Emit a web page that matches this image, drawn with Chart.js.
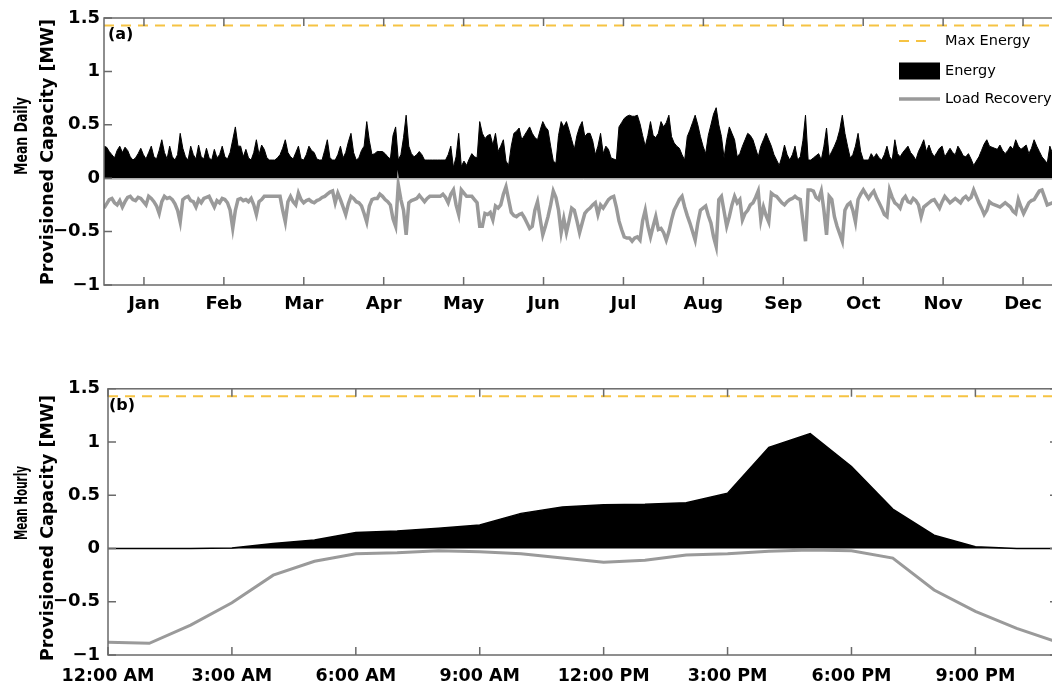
<!DOCTYPE html>
<html><head><meta charset="utf-8">
<script src="https://cdn.jsdelivr.net/npm/chart.js@4/dist/chart.umd.min.js"></script>
<style>
html,body{margin:0;padding:0;background:#fff;overflow:hidden;width:1052px;height:683px;}
#wrap{position:relative;width:1052px;height:683px;overflow:hidden;background:#fff;}
canvas{position:absolute;left:0;}
#c1{top:0;} #c2{top:370px;}
</style></head><body><div id="wrap"><canvas id="c1" width="1075" height="330"></canvas><canvas id="c2" width="1075" height="330"></canvas></div>
<script>
const monthLabels = ['Jan','Feb','Mar','Apr','May','Jun','Jul','Aug','Sep','Oct','Nov','Dec'];
const hourLabels = ['12:00 AM','3:00 AM','6:00 AM','9:00 AM','12:00 PM','3:00 PM','6:00 PM','9:00 PM'];
const hourTickValues = [0,3,6,9,12,15,18,21];
const yTickValues = [-1,-0.5,0,0.5,1,1.5];
const maxEnergy = 1.43;

const energyDaily = [
0.30,0.29,0.25,0.22,0.19,0.26,0.30,0.24,0.29,0.26,
0.20,0.17,0.19,0.23,0.28,0.22,0.18,0.24,0.30,0.20,
0.18,0.26,0.36,0.24,0.18,0.30,0.20,0.17,0.22,0.42,
0.28,0.20,0.17,0.30,0.22,0.18,0.31,0.20,0.18,0.28,
0.19,0.17,0.27,0.19,0.22,0.30,0.20,0.18,0.24,0.36,
0.48,0.30,0.30,0.20,0.27,0.19,0.17,0.24,0.36,0.22,
0.31,0.27,0.19,0.17,0.17,0.17,0.19,0.22,0.28,0.36,
0.24,0.20,0.18,0.24,0.30,0.18,0.17,0.22,0.30,0.26,
0.24,0.18,0.17,0.17,0.26,0.36,0.19,0.17,0.17,0.22,
0.30,0.19,0.24,0.34,0.42,0.24,0.17,0.19,0.26,0.30,
0.53,0.35,0.22,0.23,0.25,0.25,0.25,0.23,0.20,0.18,
0.40,0.48,0.17,0.22,0.38,0.59,0.30,0.23,0.20,0.22,
0.25,0.22,0.17,0.17,0.17,0.17,0.17,0.17,0.17,0.17,
0.17,0.22,0.30,0.10,0.20,0.42,0.11,0.16,0.12,0.18,
0.23,0.20,0.19,0.53,0.42,0.37,0.40,0.41,0.31,0.42,
0.25,0.30,0.36,0.16,0.12,0.30,0.42,0.44,0.47,0.36,
0.40,0.44,0.48,0.42,0.38,0.36,0.45,0.53,0.48,0.45,
0.30,0.16,0.14,0.40,0.53,0.48,0.53,0.45,0.36,0.27,
0.40,0.48,0.53,0.39,0.42,0.42,0.35,0.22,0.30,0.42,
0.23,0.30,0.27,0.19,0.18,0.17,0.48,0.52,0.56,0.58,
0.59,0.58,0.58,0.59,0.51,0.40,0.30,0.40,0.53,0.40,
0.38,0.42,0.53,0.48,0.52,0.59,0.39,0.33,0.30,0.28,
0.22,0.17,0.39,0.45,0.52,0.59,0.50,0.39,0.30,0.23,
0.40,0.50,0.60,0.66,0.50,0.39,0.19,0.36,0.48,0.42,
0.36,0.20,0.23,0.30,0.36,0.42,0.40,0.36,0.28,0.20,
0.30,0.36,0.42,0.36,0.30,0.22,0.17,0.12,0.20,0.31,
0.22,0.17,0.22,0.30,0.17,0.20,0.35,0.59,0.17,0.17,
0.19,0.21,0.23,0.17,0.30,0.47,0.20,0.25,0.30,0.36,
0.45,0.59,0.42,0.30,0.19,0.22,0.30,0.42,0.25,0.17,
0.17,0.17,0.23,0.19,0.23,0.19,0.17,0.22,0.30,0.20,
0.17,0.36,0.23,0.20,0.24,0.27,0.30,0.24,0.21,0.17,
0.25,0.30,0.36,0.25,0.31,0.24,0.20,0.24,0.28,0.30,
0.20,0.24,0.28,0.24,0.22,0.30,0.26,0.21,0.20,0.23,
0.18,0.12,0.16,0.20,0.26,0.32,0.36,0.30,0.29,0.28,
0.27,0.31,0.26,0.23,0.26,0.30,0.27,0.36,0.30,0.27,
0.29,0.31,0.23,0.28,0.36,0.30,0.25,0.20,0.17,0.14,
0.30,0.23,0.25,0.28,0.26
];

const loadDaily = [
-0.28,-0.24,-0.20,-0.19,-0.23,-0.25,-0.21,-0.27,-0.22,-0.18,
-0.17,-0.20,-0.21,-0.18,-0.19,-0.22,-0.25,-0.17,-0.19,-0.22,
-0.26,-0.33,-0.22,-0.17,-0.19,-0.18,-0.20,-0.24,-0.30,-0.41,
-0.20,-0.18,-0.17,-0.21,-0.22,-0.27,-0.20,-0.23,-0.19,-0.18,
-0.17,-0.22,-0.27,-0.21,-0.23,-0.19,-0.20,-0.23,-0.30,-0.47,
-0.30,-0.20,-0.19,-0.21,-0.20,-0.22,-0.19,-0.25,-0.34,-0.22,
-0.20,-0.17,-0.17,-0.17,-0.17,-0.17,-0.17,-0.17,-0.30,-0.41,
-0.22,-0.17,-0.22,-0.25,-0.14,-0.20,-0.23,-0.21,-0.20,-0.22,
-0.23,-0.21,-0.20,-0.18,-0.17,-0.15,-0.13,-0.12,-0.23,-0.14,
-0.20,-0.27,-0.34,-0.24,-0.17,-0.19,-0.22,-0.23,-0.26,-0.33,
-0.41,-0.26,-0.20,-0.19,-0.19,-0.15,-0.17,-0.20,-0.22,-0.25,
-0.38,-0.45,-0.06,-0.20,-0.30,-0.53,-0.23,-0.21,-0.20,-0.19,
-0.16,-0.19,-0.22,-0.19,-0.17,-0.17,-0.17,-0.17,-0.17,-0.15,
-0.18,-0.23,-0.15,-0.11,-0.25,-0.34,-0.11,-0.14,-0.17,-0.17,
-0.17,-0.20,-0.23,-0.45,-0.45,-0.33,-0.34,-0.32,-0.39,-0.26,
-0.28,-0.25,-0.15,-0.08,-0.20,-0.32,-0.35,-0.36,-0.34,-0.33,
-0.37,-0.42,-0.47,-0.45,-0.30,-0.22,-0.38,-0.53,-0.45,-0.36,
-0.25,-0.12,-0.18,-0.30,-0.51,-0.38,-0.51,-0.40,-0.28,-0.30,
-0.40,-0.51,-0.42,-0.33,-0.30,-0.28,-0.25,-0.23,-0.34,-0.25,
-0.28,-0.24,-0.20,-0.18,-0.17,-0.27,-0.40,-0.48,-0.55,-0.56,
-0.56,-0.59,-0.56,-0.55,-0.58,-0.40,-0.30,-0.45,-0.55,-0.45,
-0.36,-0.48,-0.47,-0.51,-0.58,-0.50,-0.39,-0.30,-0.25,-0.20,
-0.17,-0.27,-0.35,-0.42,-0.50,-0.58,-0.42,-0.30,-0.28,-0.26,
-0.35,-0.42,-0.55,-0.64,-0.20,-0.17,-0.31,-0.45,-0.36,-0.25,
-0.17,-0.23,-0.20,-0.39,-0.33,-0.30,-0.25,-0.23,-0.18,-0.12,
-0.39,-0.27,-0.35,-0.41,-0.14,-0.16,-0.17,-0.20,-0.23,-0.25,
-0.22,-0.20,-0.19,-0.17,-0.19,-0.20,-0.40,-0.59,-0.11,-0.11,
-0.12,-0.18,-0.20,-0.12,-0.30,-0.53,-0.17,-0.20,-0.36,-0.45,
-0.52,-0.59,-0.30,-0.25,-0.23,-0.30,-0.41,-0.20,-0.15,-0.11,
-0.15,-0.19,-0.15,-0.12,-0.18,-0.23,-0.28,-0.34,-0.36,-0.11,
-0.18,-0.23,-0.25,-0.28,-0.20,-0.17,-0.22,-0.23,-0.19,-0.21,
-0.25,-0.36,-0.27,-0.25,-0.23,-0.21,-0.20,-0.24,-0.28,-0.22,
-0.17,-0.20,-0.23,-0.21,-0.19,-0.21,-0.23,-0.19,-0.17,-0.20,
-0.18,-0.11,-0.17,-0.23,-0.28,-0.34,-0.30,-0.22,-0.24,-0.25,
-0.26,-0.27,-0.25,-0.23,-0.25,-0.27,-0.31,-0.33,-0.20,-0.27,
-0.33,-0.28,-0.23,-0.21,-0.20,-0.16,-0.12,-0.11,-0.18,-0.25,
-0.24,-0.23,-0.25,-0.22,-0.24
];

const hours = [0,1,2,3,4,5,6,7,8,9,10,11,12,13,14,15,16,17,18,19,20,21,22,23];
const hourlyEnergy = [0,0,0,0.005,0.047,0.08,0.15,0.165,0.19,0.22,0.33,0.39,0.41,0.415,0.43,0.52,0.95,1.08,0.77,0.37,0.125,0.016,0,0];
const hourlyLoad = [-0.88,-0.89,-0.72,-0.51,-0.25,-0.12,-0.05,-0.04,-0.02,-0.03,-0.05,-0.09,-0.13,-0.11,-0.06,-0.05,-0.025,-0.015,-0.02,-0.09,-0.39,-0.59,-0.75,-0.88];

const days = energyDaily.map((_, i) => i);

const FONT = '"DejaVu Sans", Verdana, sans-serif';
const FRAME = '#6a6a6a';
const GREY = '#9a9a9a';
const GOLD = '#f6c343';

function yTick(v) { return v < 0 ? '\u2212' + Math.abs(v) : String(v); }

const framePlugin = {
  id: 'frame',
  beforeDatasetsDraw(chart, args, o) {
    if (!o.zeroLine) return;
    const {ctx, chartArea: a, scales: {y}} = chart;
    const py = y.getPixelForValue(0) + 1;
    ctx.save();
    ctx.strokeStyle = '#b0b0b0'; ctx.lineWidth = 1;
    ctx.beginPath(); ctx.moveTo(a.left, py); ctx.lineTo(a.right, py); ctx.stroke();
    ctx.restore();
  },
  afterDraw(chart, args, o) {
    const {ctx, chartArea: a, scales: {x, y}} = chart;
    ctx.save();
    ctx.strokeStyle = FRAME; ctx.lineWidth = 1.5;
    ctx.strokeRect(a.left, a.top, a.right - a.left, a.bottom - a.top);
    const L = 8;
    ctx.beginPath();
    x.ticks.forEach(t => {
      const px = x.getPixelForValue(t.value);
      ctx.moveTo(px, a.bottom); ctx.lineTo(px, a.bottom - L);
      ctx.moveTo(px, a.top); ctx.lineTo(px, a.top + L);
    });
    y.ticks.forEach(t => {
      const py = y.getPixelForValue(t.value);
      ctx.moveTo(a.left, py); ctx.lineTo(a.left + L, py);
      ctx.moveTo(a.right, py); ctx.lineTo(a.right - L, py);
    });
    ctx.stroke();
    // panel label
    ctx.fillStyle = '#000';
    ctx.font = 'bold 16px ' + FONT;
    ctx.textAlign = 'left'; ctx.textBaseline = 'middle';
    ctx.fillText(o.label, o.labelX, a.top + 17);
    // y axis title (two lines)
    ctx.font = 'bold 17.5px ' + FONT;
    ctx.textAlign = 'center';
    o.title.forEach((t, i) => {
      ctx.save();
      ctx.translate(o.titleX[i], o.titleY[i]);
      ctx.rotate(-Math.PI / 2);
      if (o.titleMax[i]) ctx.fillText(t, 0, 0, o.titleMax[i]); else ctx.fillText(t, 0, 0);
      ctx.restore();
    });
    // legend
    if (o.legend) {
      const ds = chart.data.datasets;
      const x0 = 899, x1 = 940, tx = 945;
      const rows = [41, 71, 99];
      ctx.font = '14.5px ' + FONT;
      ctx.textAlign = 'left'; ctx.textBaseline = 'middle';
      ds.forEach((d, i) => {
        const yy = rows[i];
        if (d.fill === 'origin') {
          ctx.fillStyle = d.backgroundColor;
          ctx.fillRect(x0, yy - 8.5, x1 - x0, 17);
        } else {
          ctx.strokeStyle = d.borderColor; ctx.lineWidth = d.borderWidth;
          ctx.setLineDash(d.borderDash || []);
          ctx.beginPath(); ctx.moveTo(x0, yy); ctx.lineTo(d.borderDash ? x1 - 8 : x1, yy); ctx.stroke();
          ctx.setLineDash([]);
        }
        ctx.fillStyle = '#000';
        ctx.fillText(d.label, tx, yy);
      });
    }
    ctx.restore();
  }
};

function yScale(width, pad) {
  return {
    min: -1, max: 1.5,
    afterBuildTicks: s => { s.ticks = yTickValues.map(v => ({value: v})); },
    afterFit: s => { s.width = width; },
    grid: {display: false, drawTicks: false},
    border: {display: false},
    ticks: {callback: v => yTick(v), font: {family: FONT, size: 18, weight: 'bold'}, color: '#000', padding: pad}
  };
}

new Chart(document.getElementById('c1'), {
  type: 'line',
  data: {datasets: [
    {label: 'Max Energy', data: days.map(d => ({x: d, y: maxEnergy})), borderColor: GOLD, borderWidth: 2, borderDash: [10, 7], pointRadius: 0, fill: false, order: 0},
    {label: 'Energy', data: days.map((d, i) => ({x: d, y: energyDaily[i]})), borderColor: '#000', backgroundColor: '#000', borderWidth: 1, pointRadius: 0, fill: 'origin', order: 2},
    {label: 'Load Recovery', data: days.map((d, i) => ({x: d, y: loadDaily[i]})), borderColor: GREY, borderWidth: 3.5, pointRadius: 0, fill: false, order: 1}
  ]},
  options: {
    responsive: false, animation: false, events: [],
    layout: {padding: {top: 18, right: 12, left: 0, bottom: 0}},
    plugins: {
      legend: {display: false}, tooltip: {enabled: false},
      frame: {label: '(a)', labelX: 108, title: ['Mean Daily', 'Provisioned Capacity [MW]'], titleX: [22, 48], titleY: [136, 152], titleMax: [78, 0], legend: true, zeroLine: true}
    },
    scales: {
      x: {
        type: 'linear', min: 0, max: 365,
        afterBuildTicks: s => { s.ticks = monthLabels.map((m, i) => ({value: (i + 0.5) * 365 / 12})); },
        afterFit: s => { s.height = 45; },
        grid: {display: false, drawTicks: false},
        border: {display: false},
        ticks: {callback: (v, i) => monthLabels[i], font: {family: FONT, size: 18, weight: 'bold'}, color: '#000', padding: 9, maxRotation: 0, autoSkip: false}
      },
      y: yScale(104, 4)
    }
  },
  plugins: [framePlugin]
});

new Chart(document.getElementById('c2'), {
  type: 'line',
  data: {datasets: [
    {label: 'Max Energy', data: hours.map(h => ({x: h, y: maxEnergy})), borderColor: GOLD, borderWidth: 2, borderDash: [10, 7], pointRadius: 0, fill: false, order: 0},
    {label: 'Energy', data: hours.map((h, i) => ({x: h, y: hourlyEnergy[i]})), borderColor: '#000', backgroundColor: '#000', borderWidth: 1.5, pointRadius: 0, fill: 'origin', order: 2},
    {label: 'Load Recovery', data: hours.map((h, i) => ({x: h, y: hourlyLoad[i]})), borderColor: GREY, borderWidth: 3, pointRadius: 0, fill: false, order: 1}
  ]},
  options: {
    responsive: false, animation: false, events: [],
    layout: {padding: {top: 18, right: 17, left: 0, bottom: 0}},
    plugins: {
      legend: {display: false}, tooltip: {enabled: false},
      frame: {label: '(b)', labelX: 109, title: ['Mean Hourly', 'Provisioned Capacity [MW]'], titleX: [22, 48], titleY: [133, 158], titleMax: [74, 0], legend: false, zeroLine: false}
    },
    scales: {
      x: {
        type: 'linear', min: 0, max: 23,
        afterBuildTicks: s => { s.ticks = hourTickValues.map(v => ({value: v})); },
        afterFit: s => { s.height = 45; },
        grid: {display: false, drawTicks: false},
        border: {display: false},
        ticks: {callback: (v, i) => hourLabels[i], font: {family: FONT, size: 17.5, weight: 'bold'}, color: '#000', padding: 11, maxRotation: 0, autoSkip: false}
      },
      y: yScale(108, 8)
    }
  },
  plugins: [framePlugin]
});
</script></body></html>
